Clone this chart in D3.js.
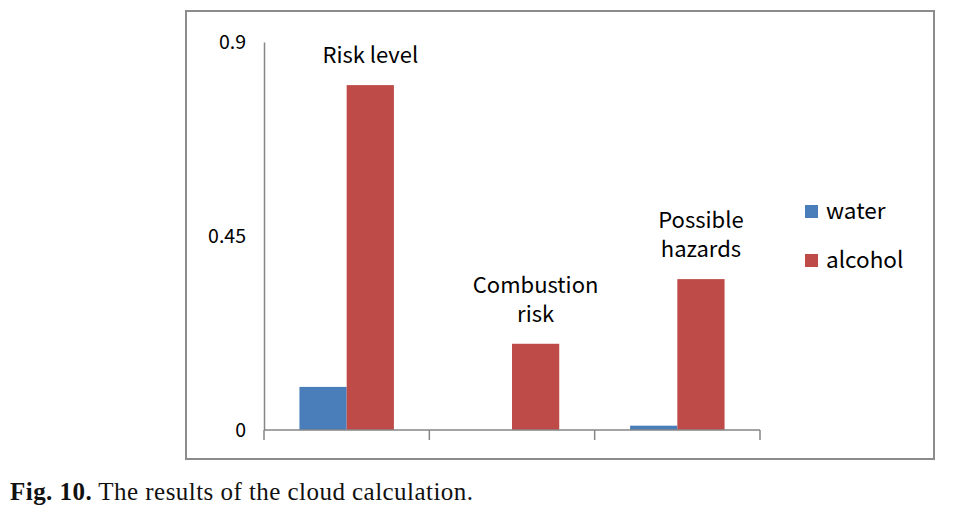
<!DOCTYPE html>
<html><head><meta charset="utf-8">
<script src="https://cdnjs.cloudflare.com/ajax/libs/d3/7.8.5/d3.min.js"></script>
<style>body{margin:0;background:#fff}svg{display:block}</style>
</head><body>
<svg id="c" width="955" height="511"></svg>
<script>
const categories = ["Risk level", "Combustion risk", "Possible hazards"];
const categoryLines = [["Risk level"], ["Combustion", "risk"], ["Possible", "hazards"]];
const seriesNames = ["water", "alcohol"];
const water = [0.10, 0, 0.01];
const alcohol = [0.80, 0.20, 0.35];
const yTicks = [0, 0.45, 0.9];
const colors = ["#4A7EBB", "#BE4B48"];

const svg = d3.select("#c");
const font = "'Noto Sans CJK KR','Noto Sans',sans-serif";

// outer frame
svg.append("rect").attr("x", 186).attr("y", 11).attr("width", 748).attr("height", 448)
  .attr("fill", "none").attr("stroke", "#8c8c8c").attr("stroke-width", 2);

const x0 = 264, x1 = 760, yTop = 42, yBot = 430;
const x = d3.scaleBand().domain(categories).range([x0, x1]).paddingInner(0).paddingOuter(0);
const y = d3.scaleLinear().domain([0, 0.9]).range([yBot, yTop]);
const bw = x.bandwidth() / (2 + 1.5);
const xs = d3.scaleBand().domain(seriesNames).range([bw * 0.75, bw * 2.75]).padding(0);

const g = svg.append("g");
const data = categories.map((c, i) => ({ c, vals: [water[i], alcohol[i]], lines: categoryLines[i] }));

// bars
data.forEach(d => {
  seriesNames.forEach((s, j) => {
    const v = d.vals[j];
    if (v <= 0) return;
    g.append("rect")
      .attr("x", x(d.c) + xs(s)).attr("width", xs.bandwidth())
      .attr("y", y(v)).attr("height", y(0) - y(v))
      .attr("fill", colors[j]);
  });
});

// y axis
const yAxis = d3.axisLeft(y).tickValues(yTicks).tickSize(0).tickPadding(18).tickFormat(d => String(d));
const ya = svg.append("g").attr("transform", `translate(${x0},0)`).call(yAxis);
ya.select(".domain").attr("stroke", "#868686").attr("stroke-width", 1.5);
ya.selectAll("text").attr("font-family", font).attr("font-size", 19.5).attr("fill", "#000");

// x axis
const xa = svg.append("g").attr("transform", `translate(0,${yBot})`);
xa.append("line").attr("x1", x0).attr("x2", x1).attr("y1", 0).attr("y2", 0)
  .attr("stroke", "#868686").attr("stroke-width", 1.5);
const tickPos = categories.map(c => x(c)).concat([x(categories[categories.length - 1]) + x.bandwidth()]);
xa.selectAll("line.t").data(tickPos).enter().append("line").attr("class", "t")
  .attr("x1", d => d).attr("x2", d => d).attr("y1", 0).attr("y2", 10)
  .attr("stroke", "#868686").attr("stroke-width", 1.5);

// category labels above alcohol bars
data.forEach(d => {
  const cx = x(d.c) + xs("alcohol") + xs.bandwidth() / 2;
  const baseY = y(d.vals[1]) - 22;
  const n = d.lines.length;
  d.lines.forEach((ln, k) => {
    svg.append("text").attr("x", cx).attr("y", baseY - (n - 1 - k) * 29)
      .attr("text-anchor", "middle").attr("font-family", font).attr("font-size", 22)
      .attr("fill", "#000").text(ln);
  });
});

// legend
const lg = svg.append("g").attr("transform", "translate(805,205)");
seriesNames.forEach((s, j) => {
  lg.append("rect").attr("x", 0).attr("y", j * 49).attr("width", 13).attr("height", 13).attr("fill", colors[j]);
  lg.append("text").attr("x", 21).attr("y", j * 49 + 14).attr("font-family", font).attr("font-size", 22.5)
    .attr("fill", "#000").text(s);
});

// caption
const cap = svg.append("text").attr("x", 10).attr("y", 500)
  .attr("font-family", "'Liberation Serif','DejaVu Serif',serif").attr("font-size", 25).attr("fill", "#111")
  .attr("textLength", 463).attr("lengthAdjust", "spacing");
cap.append("tspan").attr("font-weight", "bold").text("Fig. 10.");
cap.append("tspan").text(" The results of the cloud calculation.");
</script>
</body></html>
